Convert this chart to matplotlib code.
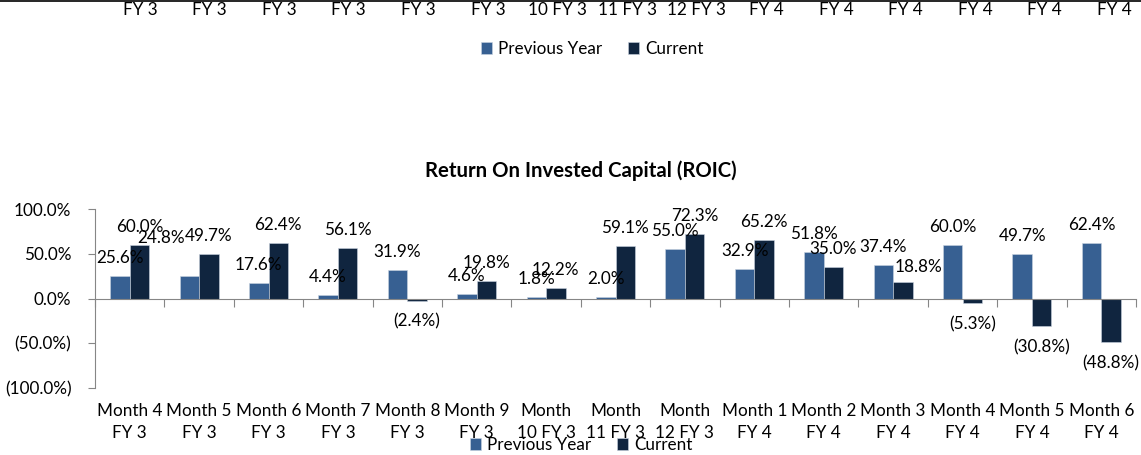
import matplotlib
matplotlib.use('Agg')
import matplotlib.pyplot as plt
from matplotlib.lines import Line2D
from matplotlib.ticker import FuncFormatter
import numpy as np

plt.rcParams['font.family'] = ['Lato', 'DejaVu Sans']

# ---------------------------------------------------------------------------
# Data
# ---------------------------------------------------------------------------
categories = [
    "Month 4\nFY 3", "Month 5\nFY 3", "Month 6\nFY 3", "Month 7\nFY 3",
    "Month 8\nFY 3", "Month 9\nFY 3", "Month\n10 FY 3", "Month\n11 FY 3",
    "Month\n12 FY 3", "Month 1\nFY 4", "Month 2\nFY 4", "Month 3\nFY 4",
    "Month 4\nFY 4", "Month 5\nFY 4", "Month 6\nFY 4",
]
previous_year = [25.6, 24.8, 17.6, 4.4, 31.9, 4.6, 1.8, 2.0,
                 55.0, 32.9, 51.8, 37.4, 60.0, 49.7, 62.4]
current = [60.0, 49.7, 62.4, 56.1, -2.4, 19.8, 12.2, 59.1,
           72.3, 65.2, 35.0, 18.8, -5.3, -30.8, -48.8]
y_ticks = [-100, -50, 0, 50, 100]

PREV_COLOR = '#376092'
CUR_COLOR = '#10253f'
AXIS_COLOR = '#868686'
FS = 12.3

W, H = 1141, 455


def pct(v):
    return f"({abs(v):.1f}%)" if v < 0 else f"{v:.1f}%"


fig = plt.figure(figsize=(W / 100, H / 100), dpi=100)
fig.patch.set_facecolor('white')

# thin dark rule at the very top (bottom edge of the chart above)
fig.add_artist(Line2D([0, 1], [1 - 0.7 / H, 1 - 0.7 / H], color='black',
                      lw=1.2, transform=fig.transFigure))

# ---------------------------------------------------------------------------
# Tail of the previous chart: second line of its category labels + legend
# ---------------------------------------------------------------------------
ax_top = fig.add_axes([105.2 / W, 1 - 2 / H, 1044 / W, 0.001])
ax_top.set_xlim(-0.5, len(categories) - 0.5)
ax_top.set_xticks(range(len(categories)),
                  [c.split("\n")[1] for c in categories])
ax_top.tick_params(axis='x', length=0, pad=0, labelsize=FS)
ax_top.set_yticks([])
for s in ax_top.spines.values():
    s.set_visible(False)
ax_top.patch.set_visible(False)

# ---------------------------------------------------------------------------
# ROIC chart
# ---------------------------------------------------------------------------
ax = fig.add_axes([95 / W, 1 - 387.7 / H, 1041 / W, 178.4 / H])
x = np.arange(len(categories))
bw = 0.28
b_prev = ax.bar(x - bw / 2, previous_year, bw, color=PREV_COLOR,
                edgecolor='#c9d3e0', linewidth=0.4, label='Previous Year')
b_cur = ax.bar(x + bw / 2, current, bw, color=CUR_COLOR,
               edgecolor='#c9d3e0', linewidth=0.4, label='Current')

ax.set_xlim(-0.5, len(categories) - 0.5)
ax.set_ylim(-100, 100)
ax.set_yticks(y_ticks)
ax.yaxis.set_major_formatter(FuncFormatter(lambda v, _: pct(v)))
ax.tick_params(axis='y', direction='out', length=5, color=AXIS_COLOR,
               labelsize=FS, pad=12)

for s in ('top', 'right'):
    ax.spines[s].set_visible(False)
ax.spines['left'].set_color(AXIS_COLOR)
ax.spines['bottom'].set_color(AXIS_COLOR)
ax.spines['bottom'].set_position(('data', 0))

ax.set_xticks(np.arange(-0.5, len(categories), 1))
ax.set_xticklabels([])
ax.tick_params(axis='x', direction='out', length=6, color=AXIS_COLOR)

sec = ax.secondary_xaxis('bottom')
sec.set_xticks(x, categories)
sec.tick_params(length=0, pad=11, labelsize=FS)
sec.spines['bottom'].set_visible(False)
for t in sec.get_xticklabels():
    t.set_linespacing(1.45)

# data labels; two of them were dragged aside in the original
nudge = {('prev', 1): (-28, 20), ('cur', 11): (16, -3)}
for name, bars, vals in (('prev', b_prev, previous_year),
                         ('cur', b_cur, current)):
    for i, (bar, v) in enumerate(zip(bars, vals)):
        cx = bar.get_x() + bar.get_width() / 2
        dy = 18 if v >= 0 else -21
        ndx, ndy = nudge.get((name, i), (0, 0))
        ax.annotate(pct(v), xy=(cx, v), xytext=(ndx, dy + ndy),
                    textcoords='offset pixels', ha='center', va='center',
                    fontsize=FS)

fig.text(581 / W, 1 - 171 / H, "Return On Invested Capital (ROIC)",
         ha='center', va='center', fontsize=14.7, fontweight='bold')

legend_kw = dict(ncol=2, frameon=False, fontsize=FS, handlelength=0.65,
                 handleheight=0.65, handletextpad=0.35, columnspacing=1.5,
                 borderaxespad=0, borderpad=0)
fig.legend(handles=[b_prev, b_cur], loc='center',
           bbox_to_anchor=(592.5 / W, 1 - 49 / H), **legend_kw)
fig.legend(handles=[b_prev, b_cur], loc='center',
           bbox_to_anchor=(581.5 / W, 1 - 445 / H), **legend_kw)

fig.savefig('out.png', dpi=100, facecolor='white')
